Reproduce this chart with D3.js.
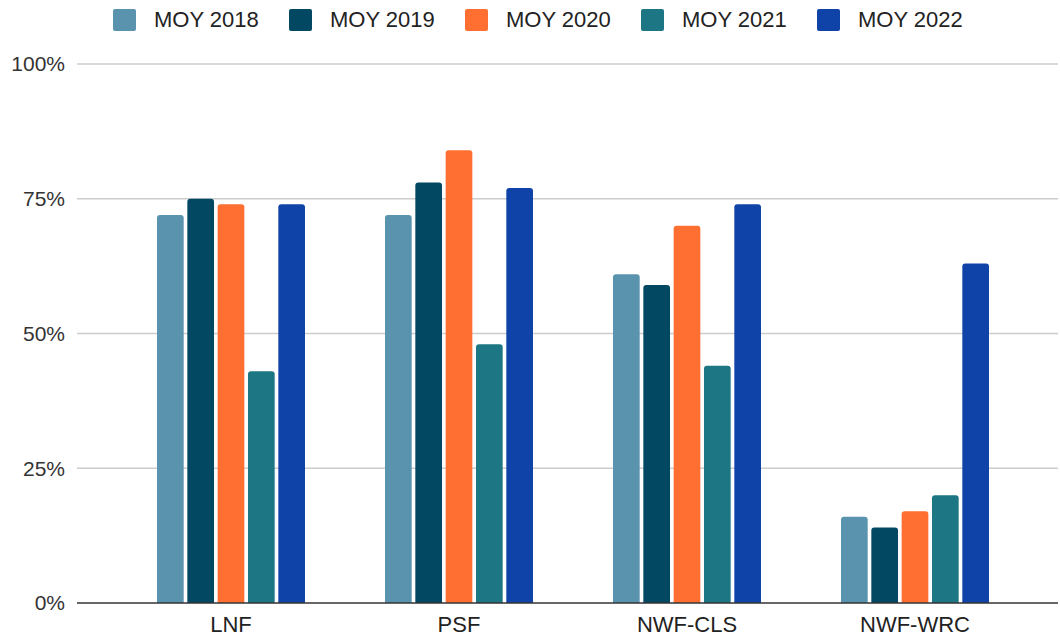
<!DOCTYPE html>
<html>
<head>
<meta charset="utf-8">
<script src="https://cdn.jsdelivr.net/npm/d3@7"></script>
<style>
  body { margin: 0; background: #fff; }
  text { font-family: Arial, "Liberation Sans", sans-serif; }
</style>
</head>
<body>
<div id="chart"></div>
<script>
const categories = ["LNF", "PSF", "NWF-CLS", "NWF-WRC"]
const seriesNames = ["MOY 2018", "MOY 2019", "MOY 2020", "MOY 2021", "MOY 2022"]
const moy2018 = [72, 72, 61, 16]
const moy2019 = [75, 78, 59, 14]
const moy2020 = [74, 84, 70, 17]
const moy2021 = [43, 48, 44, 20]
const moy2022 = [74, 77, 74, 63]
const yTicks = [0, 25, 50, 75, 100]

const seriesValues = [moy2018, moy2019, moy2020, moy2021, moy2022]
const colors = ["#5a93ae", "#034863", "#ff6f31", "#1d7683", "#1043a8"]

const width = 1060
const height = 636

const svg = d3.select("#chart")
  .append("svg")
    .attr("width", width)
    .attr("height", height)

let x = d3.scaleBand()
  .domain(categories)
  .range([117, 1029])

let x1 = d3.scaleBand()
  .domain(seriesNames)
  .range([0, 148])
  .paddingInner(0.12)

let y = d3.scaleLinear()
  .domain([0, 100])
  .range([603, 64])

// gridlines + y labels
svg.append("g")
  .selectAll("line")
  .data(yTicks.filter(d => d > 0))
  .enter()
  .append("line")
    .attr("x1", 77)
    .attr("x2", 1058)
    .attr("y1", d => y(d))
    .attr("y2", d => y(d))
    .attr("stroke", "#cccccc")
    .attr("stroke-width", 1.3)

svg.append("g")
  .selectAll("text")
  .data(yTicks)
  .enter()
  .append("text")
    .attr("x", 65)
    .attr("y", d => y(d))
    .attr("dy", "0.35em")
    .attr("text-anchor", "end")
    .attr("font-size", "21px")
    .attr("fill", "#333")
    .text(d => d + "%")

// bars, rounded top only
function barPath(x0, w, yTop, yBase, r) {
  r = Math.min(r, (yBase - yTop))
  return `M${x0},${yBase}V${yTop + r}Q${x0},${yTop} ${x0 + r},${yTop}H${x0 + w - r}Q${x0 + w},${yTop} ${x0 + w},${yTop + r}V${yBase}Z`
}

let rows = []
categories.forEach((c, i) => {
  seriesNames.forEach((s, j) => {
    rows.push({cat: c, series: s, value: seriesValues[j][i], color: colors[j]})
  })
})

const groupOffset = (x.bandwidth() - 148) / 2

svg.append("g")
  .selectAll("path")
  .data(rows)
  .enter()
  .append("path")
    .attr("d", d => barPath(x(d.cat) + groupOffset + x1(d.series), x1.bandwidth(), y(d.value), y(0), 3))
    .attr("fill", d => d.color)

// baseline
svg.append("line")
  .attr("x1", 77)
  .attr("x2", 1058)
  .attr("y1", y(0))
  .attr("y2", y(0))
  .attr("stroke", "#333")
  .attr("stroke-width", 1.5)

// x labels
svg.append("g")
  .selectAll("text")
  .data(categories)
  .enter()
  .append("text")
    .attr("x", d => x(d) + x.bandwidth() / 2)
    .attr("y", 632)
    .attr("text-anchor", "middle")
    .attr("font-size", "22px")
    .attr("fill", "#222")
    .text(d => d)

// legend
const legendX = [113, 289, 465, 641, 817]
let legend = svg.append("g")
  .selectAll("g")
  .data(seriesNames)
  .enter()
  .append("g")
    .attr("transform", (d, i) => "translate(" + legendX[i] + ",9)")

legend.append("rect")
  .attr("width", 23)
  .attr("height", 22)
  .attr("rx", 2)
  .attr("fill", (d, i) => colors[i])

legend.append("text")
  .attr("x", 41)
  .attr("y", 10)
  .attr("dy", "0.35em")
  .attr("font-size", "22px")
  .attr("fill", "#222")
  .text(d => d)
</script>
</body>
</html>
